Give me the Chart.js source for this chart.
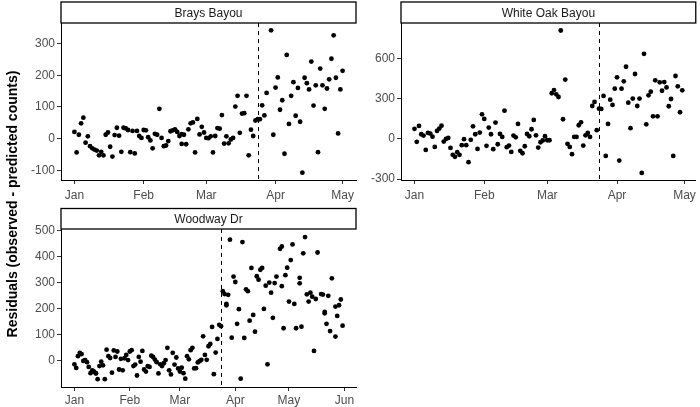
<!DOCTYPE html>
<html>
<head>
<meta charset="utf-8">
<script src="https://cdn.jsdelivr.net/npm/chart.js@4.4.1/dist/chart.umd.min.js"></script>
<style>
  html, body { margin: 0; padding: 0; background: #fff; }
  #wrap { position: relative; width: 700px; height: 407px; overflow: hidden; }
  #wrap canvas { position: absolute; }
  #ytitle {
    position: absolute; left: -187px; top: 195px; width: 400px; height: 18px;
    text-align: center; line-height: 18px; white-space: nowrap;
    font: bold 14px "Liberation Sans", Arial, sans-serif; color: #000;
    transform: rotate(-90deg);
  }
</style>
</head>
<body>
<div id="wrap">
  <canvas id="brays" width="360" height="205" style="left:0;top:0"></canvas>
  <canvas id="whiteoak" width="360" height="205" style="left:340px;top:0"></canvas>
  <canvas id="woodway" width="360" height="202" style="left:0;top:205px"></canvas>
  <div id="ytitle">Residuals (observed - predicted counts)</div>
</div>
<script>
// x values are day of year (0 = Jan 1)
const month_days = [0, 31, 59, 90, 120, 151];
const month_labels = ['Jan', 'Feb', 'Mar', 'Apr', 'May', 'Jun'];
const intervention_day = 82;

const brays_day = [0,1,2,3,4,5,6,7,8,9,10,11,12,13,14,15,16,17,18,19,20,21,22,23,24,25,26,27,28,29,
  30,31,32,33,34,35,36,37,38,39,40,41,42,43,44,45,46,47,48,48,49,50,51,52,53,54,55,56,57,58,59,
  60,61,62,63,64,65,66,67,68,69,70,71,72,73,74,75,76,77,78,79,80,81,82,83,84,85,86,
  88,89,90,91,92,93,94,95,96,97,98,99,100,101,102,103,104,105,106,107,108,109,110,
  111,112,113,114,115,116,117,118,119,120];
const brays_resid = [21,-44,12,48,66,-13,7,-24,-31,-35,-38,-53,-42,-53,12,19,-26,-57,11,34,9,-42,34,32,27,-43,24,-47,24,8,
  2,27,26,4,-6,-31,15,12,94,2,-24,-22,-8,23,26,29,21,8,14,-17,12,-18,29,48,51,-44,62,13,37,19,2,
  1,7,-44,8,33,31,74,-16,7,-15,-3,2,101,135,18,79,80,135,-53,28,8,57,61,61,105,73,144,
  342,12,161,193,91,121,-48,264,46,135,178,72,160,53,-108,192,175,155,243,104,168,-43,221,
  168,94,158,187,252,326,192,16,155,214];

const whiteoak_day = [0,1,2,3,4,5,6,7,8,9,10,11,12,13,14,15,16,17,18,19,20,21,22,23,24,25,26,27,28,29,
  30,31,32,33,34,35,36,37,38,39,40,41,42,43,44,45,46,47,48,49,50,51,52,53,54,55,56,57,58,59,
  60,61,62,63,64,65,66,67,68,69,70,71,72,73,74,75,76,77,78,79,80,81,82,83,84,85,86,87,88,89,
  90,91,92,93,94,95,96,97,98,99,100,101,102,103,104,105,106,107,108,109,110,111,112,113,114,115,116,117,118,119];
const whiteoak_resid = [75,-22,97,35,25,-82,45,40,17,-60,60,77,99,-20,0,7,-67,-119,-134,-99,
  -119,-47,-2,-47,-174,-7,94,35,-75,47,184,149,-52,85,35,-77,122,-40,37,15,
  211,-62,-50,-97,25,12,112,-89,-107,-55,37,20,72,142,27,-65,-25,-12,20,-10,
  -10,341,365,333,313,810,147,443,-37,-60,-114,15,15,102,124,-50,27,45,15,246,
  276,65,226,224,321,-127,112,293,254,375,460,-162,375,430,539,271,80,301,485,246,
  301,-254,636,109,326,353,169,438,169,423,360,425,385,244,298,-127,470,393,199,363];

const woodway_day = [0,1,2,3,4,5,6,7,8,9,10,11,12,12,13,14,15,16,17,18,19,20,21,22,23,24,25,26,27,28,
  29,30,31,32,33,34,35,36,37,38,39,40,41,42,43,44,45,46,47,48,49,50,51,52,53,54,55,56,57,58,
  59,60,61,62,63,64,65,66,67,68,69,70,71,
  72,73,74,75,76,77,78,79,80,81,82,83,84,85,85,86,87,88,89,90,91,92,93,94,95,96,97,98,99,100,
  101,102,103,104,105,106,107,108,109,110,111,112,113,115,116,116,117,118,119,120,121,122,123,124,
  126,126,127,128,129,130,131,132,133,134,135,136,138,139,140,140,141,142,143,144,146,146,147,148,149,150];
const woodway_resid = [-13,-27,18,31,26,0,3,-5,-23,-47,-36,-41,-48,-47,-70,-20,-3,-17,-70,43,18,11,-45,40,15,36,-33,8,-36,10,
  23,3,36,41,-20,-14,-56,15,-3,38,-33,-41,-20,-23,20,15,5,-5,-48,-13,-20,-9,3,50,-36,-52,31,-14,13,-29,
  -41,-26,-47,-68,18,6,41,50,-29,-28,-6,-1,4,
  94,23,4,56,65,130,-51,32,84,138,133,267,256,213,218,253,464,89,323,302,142,198,-68,455,88,274,267,154,356,176,
  112,324,311,349,356,199,288,-13,300,261,165,298,323,429,438,286,125,328,357,227,386,446,218,125,
  318,297,131,412,474,255,227,261,246,38,237,415,256,254,182,188,142,249,114,316,208,93,172,213,235,135];

const font_family = '"Liberation Sans", Arial, sans-serif';

// facet strip label drawn above the panel
const stripPlugin = {
  id: 'strip',
  afterDraw(chart, args, opts) {
    const ctx = chart.ctx, a = chart.chartArea;
    ctx.save();
    ctx.fillStyle = '#fff';
    ctx.fillRect(a.left, opts.top, a.right - a.left, a.top - opts.top);
    ctx.strokeStyle = '#000';
    ctx.lineWidth = 1.3;
    ctx.strokeRect(a.left, opts.top, a.right - a.left, a.top - opts.top);
    ctx.fillStyle = '#1a1a1a';
    ctx.font = '12px ' + font_family;
    ctx.textAlign = 'center';
    ctx.textBaseline = 'middle';
    ctx.fillText(opts.text, (a.left + a.right) / 2, (opts.top + a.top) / 2 + 1);
    ctx.restore();
  }
};

// dashed vertical line at the intervention date
const vlinePlugin = {
  id: 'vline',
  beforeDatasetsDraw(chart, args, opts) {
    const ctx = chart.ctx, a = chart.chartArea;
    const x = Math.round(chart.scales.x.getPixelForValue(opts.day)) + 0.5;
    ctx.save();
    ctx.strokeStyle = '#000';
    ctx.lineWidth = 1;
    ctx.setLineDash([4, 4]);
    ctx.beginPath();
    ctx.moveTo(x, a.top);
    ctx.lineTo(x, a.bottom);
    ctx.stroke();
    ctx.restore();
  }
};

function makePanel(id, title, days, resid, xr, yr, yticks, pad) {
  const ctx = document.getElementById(id).getContext('2d');
  return new Chart(ctx, {
    type: 'scatter',
    data: {
      datasets: [{
        data: days.map((d, i) => ({x: d, y: resid[i]})),
        backgroundColor: '#000',
        borderWidth: 0,
        pointRadius: 2.4
      }]
    },
    options: {
      responsive: false,
      animation: false,
      devicePixelRatio: 1,
      events: [],
      layout: {padding: {top: pad.top, right: 2, left: 0, bottom: 0}},
      scales: {
        x: {
          type: 'linear',
          min: xr[0],
          max: xr[1],
          afterBuildTicks: s => { s.ticks = month_days.filter(d => d >= xr[0] && d <= xr[1]).map(v => ({value: v})); },
          afterFit: s => { s.height = pad.xh; },
          ticks: {
            autoSkip: false,
            maxRotation: 0,
            padding: pad.xpad,
            color: '#4d4d4d',
            font: {family: font_family, size: 12},
            callback: v => month_labels[month_days.indexOf(v)]
          },
          grid: {drawOnChartArea: false, tickLength: 4, tickColor: '#333', tickWidth: 1},
          border: {color: '#000', width: 1}
        },
        y: {
          min: yr[0],
          max: yr[1],
          afterBuildTicks: s => { s.ticks = yticks.map(v => ({value: v})); },
          afterFit: s => { s.width = 61; },
          ticks: {
            autoSkip: false,
            padding: 2,
            color: '#4d4d4d',
            font: {family: font_family, size: 12}
          },
          grid: {drawOnChartArea: false, tickLength: 4, tickColor: '#333', tickWidth: 1},
          border: {color: '#000', width: 1}
        }
      },
      plugins: {
        legend: {display: false},
        tooltip: {enabled: false},
        strip: {text: title, top: pad.stripTop},
        vline: {day: intervention_day}
      }
    },
    plugins: [vlinePlugin, stripPlugin]
  });
}

makePanel('brays', 'Brays Bayou', brays_day, brays_resid,
  [-6, 126], [-131, 365], [-100, 0, 100, 200, 300], {top: 23, xh: 25, xpad: 4, stripTop: 2});
makePanel('whiteoak', 'White Oak Bayou', whiteoak_day, whiteoak_resid,
  [-6, 125], [-307, 866], [-300, 0, 300, 600], {top: 23, xh: 25, xpad: 4, stripTop: 2});
makePanel('woodway', 'Woodway Dr', woodway_day, woodway_resid,
  [-7.5, 157.5], [-100, 505], [0, 100, 200, 300, 400, 500], {top: 24, xh: 20, xpad: 2, stripTop: 3.5});
</script>
</body>
</html>
